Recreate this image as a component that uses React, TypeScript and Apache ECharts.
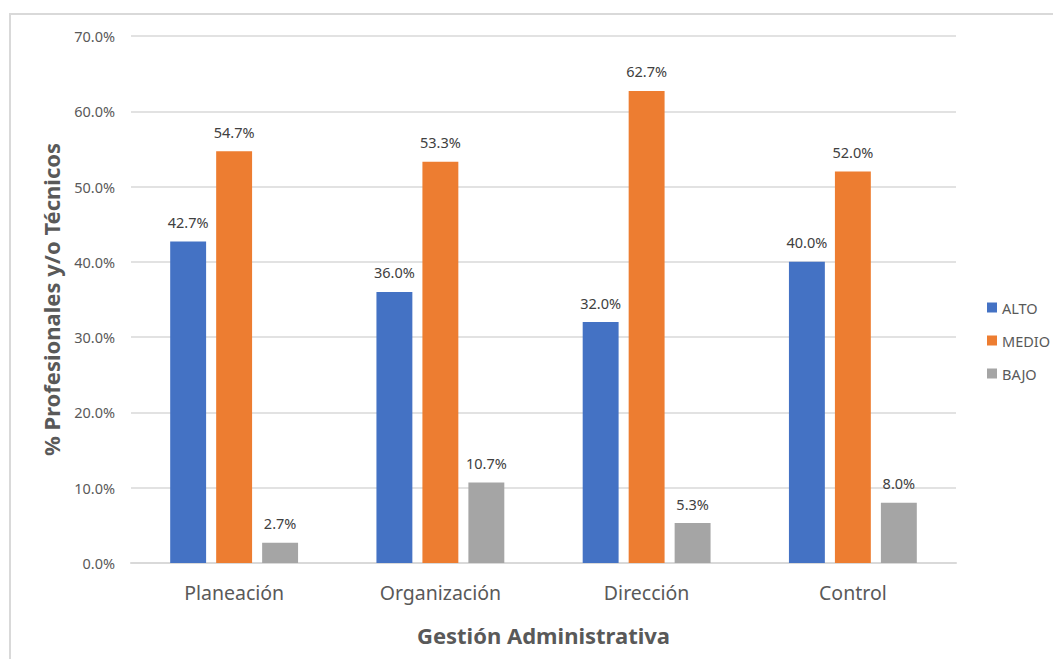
import React, { useEffect, useRef } from "react";
import * as echarts from "echarts";

const categories = ["Planeación", "Organización", "Dirección", "Control"];
const alto = [42.7, 36.0, 32.0, 40.0];
const medio = [54.7, 53.3, 62.7, 52.0];
const bajo = [2.7, 10.7, 5.3, 8.0];
const seriesNames = ["ALTO", "MEDIO", "BAJO"];
const colors = ["#4472C4", "#ED7D31", "#A5A5A5"];

const FONT = "'Noto Sans', 'Open Sans', sans-serif";

export default function App() {
  const ref = useRef<HTMLDivElement>(null);

  useEffect(() => {
    document.body.style.margin = "0";
    if (!ref.current) return;
    const chart = echarts.init(ref.current, undefined, { renderer: "svg" });

    const label = {
      show: true,
      position: "top",
      distance: 12,
      color: "#404040",
      fontSize: 14.5,
      fontFamily: FONT,
      formatter: (p: any) => Number(p.value).toFixed(1) + "%",
    };

    const mk = (name: string, data: number[], color: string) => ({
      name,
      type: "bar",
      data,
      barGap: "28%",
      barCategoryGap: "38%",
      itemStyle: { color },
      label,
    });

    chart.setOption({
      animation: false,
      textStyle: { fontFamily: FONT },
      graphic: [
        {
          type: "rect",
          shape: { x: 10, y: 14, width: 1100, height: 700 },
          style: { fill: "none", stroke: "#D9D9D9", lineWidth: 2 },
          silent: true,
        },
      ],
      grid: { left: 131, right: 97, top: 36, bottom: 96, containLabel: false },
      legend: {
        orient: "vertical",
        left: 982,
        top: 295,
        itemWidth: 10,
        itemHeight: 10,
        itemGap: 18,
        icon: "rect",
        data: seriesNames,
        textStyle: { color: "#595959", fontSize: 14.5, fontFamily: FONT },
      },
      xAxis: {
        type: "category",
        data: categories,
        name: "Gestión Administrativa",
        nameLocation: "middle",
        nameGap: 61,
        nameTextStyle: { color: "#595959", fontSize: 22, fontWeight: "bold", fontFamily: FONT },
        axisLine: { lineStyle: { color: "#D9D9D9", width: 2 } },
        axisTick: { show: false },
        axisLabel: { color: "#595959", fontSize: 19.5, margin: 19, fontFamily: FONT },
      },
      yAxis: {
        type: "value",
        min: 0,
        max: 70,
        interval: 10,
        name: "% Profesionales y/o Técnicos",
        nameLocation: "middle",
        nameGap: 69,
        nameTextStyle: { color: "#595959", fontSize: 22, fontWeight: "bold", fontFamily: FONT },
        axisLine: { show: false },
        axisTick: { show: false },
        axisLabel: {
          color: "#595959",
          fontSize: 14.5,
          margin: 16,
          fontFamily: FONT,
          formatter: (v: number) => v.toFixed(1) + "%",
        },
        splitLine: { lineStyle: { color: "#D9D9D9", width: 1.5 } },
      },
      series: [
        mk(seriesNames[0], alto, colors[0]),
        mk(seriesNames[1], medio, colors[1]),
        mk(seriesNames[2], bajo, colors[2]),
      ],
    });

    return () => chart.dispose();
  }, []);

  return <div ref={ref} style={{ width: 1053, height: 659 }} />;
}
